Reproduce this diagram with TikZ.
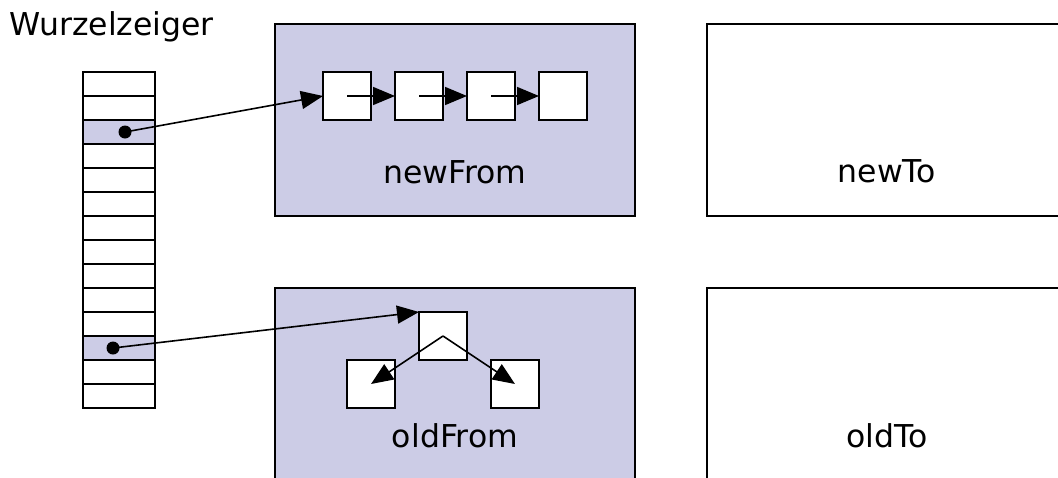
\documentclass[tikz,border=0pt]{standalone}
\usepackage{fontspec}
\setmainfont{DejaVu Sans}
\usetikzlibrary{arrows.meta}
\definecolor{heap}{RGB}{204,204,230}
\begin{document}
\begin{tikzpicture}[x=1pt,y=-1pt,
  every node/.style={font=\fontsize{31.5}{38}\selectfont},
  area/.style={draw=black,line width=2pt,rectangle,inner sep=0pt,outer sep=0pt,
    minimum width=360pt,minimum height=192pt},
  shaded/.style={fill=heap},
  cell/.style={draw=black,line width=1.8pt,rectangle,inner sep=0pt,outer sep=0pt,
    minimum width=72pt,minimum height=24pt,fill=white},
  obj/.style={draw=black,line width=1.8pt,rectangle,inner sep=0pt,outer sep=0pt,
    minimum size=48pt,fill=white},
  dot/.style={circle,fill=black,inner sep=0pt,minimum size=13pt},
  ptr/.style={line width=1.6pt,-{Triangle[length=22pt,width=18pt]}},
  caption/.style={anchor=base,inner sep=0pt}
]
\useasboundingbox (0,0) rectangle (1058,477);
\clip (0,0) rectangle (1058,477);
\fill[white] (0,0) rectangle (1058,477);

% heap areas
\node[area,shaded] (newFrom) at (455,120) {};
\node[area] (newTo) at (887,120) {};
\node[area,shaded] (oldFrom) at (455,384) {};
\node[area] (oldTo) at (887,384) {};
\node[caption] (tNewFrom) at (455,183) {newFrom};
\node[caption] (tNewTo) at (887,182) {newTo};
\node[caption] (tOldFrom) at (455,447) {oldFrom};
\node[caption] (tOldTo) at (887,447) {oldTo};

% root pointer table
\node[anchor=base west,inner sep=0pt] (title) at (9,35) {Wurzelzeiger};
\foreach \i in {1,...,14} {
  \node[cell] (c\i) at (119,{60+24*\i}) {};
}
\node[cell,fill=heap] at (c3) {};
\node[cell,fill=heap] at (c12) {};
\node[dot] (d1) at (125,132) {};
\node[dot] (d2) at (113,348) {};

% linked list in newFrom
\node[obj] (l1) at (347,96) {};
\node[obj] (l2) at (419,96) {};
\node[obj] (l3) at (491,96) {};
\node[obj] (l4) at (563,96) {};

% tree in oldFrom
\node[obj] (t0) at (443,336) {};
\node[obj] (t1) at (371,384) {};
\node[obj] (t2) at (515,384) {};

% pointers
\draw[ptr] (d1.center) -- (l1.west);
\draw[ptr] (l1.center) -- (l2.west);
\draw[ptr] (l2.center) -- (l3.west);
\draw[ptr] (l3.center) -- (l4.west);
\draw[ptr] (d2.center) -- (t0.north west);
\draw[ptr] (t0.center) -- (t1.center);
\draw[ptr] (t0.center) -- (t2.center);
\end{tikzpicture}
\end{document}
